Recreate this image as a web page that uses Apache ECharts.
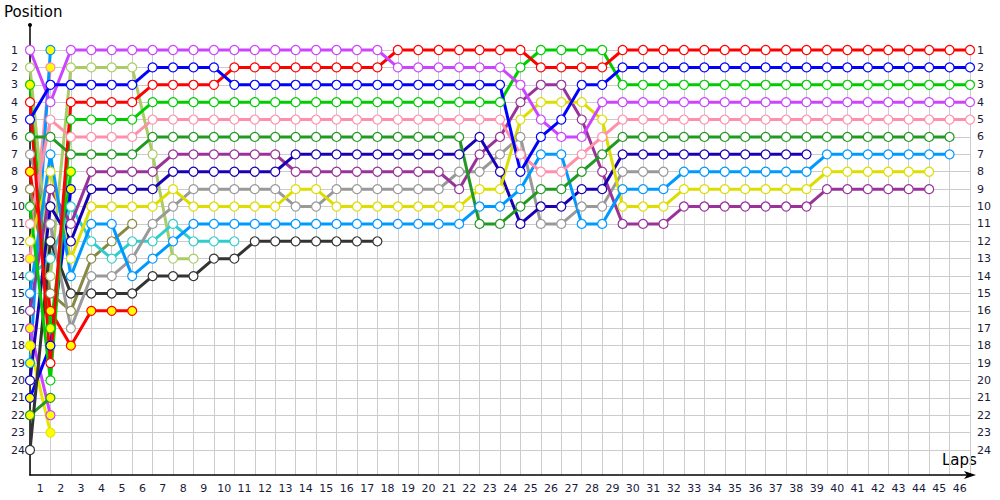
<!DOCTYPE html>
<html><head><meta charset="utf-8">
<script src="https://cdn.jsdelivr.net/npm/echarts@6/dist/echarts.min.js"></script>
<style>html,body{margin:0;padding:0;background:#fff}#c{width:1000px;height:500px}</style>
</head><body><div id="c"></div>
<script>
// Tick labels
const lapLabels = ['1','2','3','4','5','6','7','8','9','10','11','12','13','14','15','16','17','18','19','20','21','22','23','24','25','26','27','28','29','30','31','32','33','34','35','36','37','38','39','40','41','42','43','44','45','46'];
const posLabels = ['1','2','3','4','5','6','7','8','9','10','11','12','13','14','15','16','17','18','19','20','21','22','23','24'];

// Position per lap (index 0 = grid)
const posRed      = [4,19,4,4,4,4,3,3,3,3,2,2,2,2,2,2,2,2,1,1,1,1,1,1,1,2,2,2,2,1,1,1,1,1,1,1,1,1,1,1,1,1,1,1,1,1,1];
const posBlue     = [5,3,3,3,3,3,2,2,2,2,3,3,3,3,3,3,3,3,3,3,3,3,3,3,8,6,5,3,3,2,2,2,2,2,2,2,2,2,2,2,2,2,2,2,2,2,2];
const posGreen    = [10,20,5,5,5,5,4,4,4,4,4,4,4,4,4,4,4,4,4,4,4,4,4,4,2,1,1,1,1,3,3,3,3,3,3,3,3,3,3,3,3,3,3,3,3,3,3];
const posViolet   = [1,4,1,1,1,1,1,1,1,1,1,1,1,1,1,1,1,1,2,2,2,2,2,2,3,5,6,6,4,4,4,4,4,4,4,4,4,4,4,4,4,4,4,4,4,4,4];
const posPink     = [11,5,6,6,6,6,5,5,5,5,5,5,5,5,5,5,5,5,5,5,5,5,5,5,7,8,8,7,6,5,5,5,5,5,5,5,5,5,5,5,5,5,5,5,5,5,5];
const posDkGreen  = [6,6,7,7,7,7,6,6,6,6,6,6,6,6,6,6,6,6,6,6,6,6,11,11,10,9,9,8,7,6,6,6,6,6,6,6,6,6,6,6,6,6,6,6,6,6];
const posLtBlue   = [15,7,14,11,11,14,13,12,11,11,11,11,11,11,11,11,11,11,11,11,11,11,10,10,9,7,7,11,11,9,9,9,8,8,8,8,8,8,8,7,7,7,7,7,7,7];
const posYellow   = [12,8,13,10,10,10,10,9,10,10,10,10,10,9,9,10,10,10,10,10,10,10,9,9,5,4,4,4,5,10,10,10,9,9,9,9,9,9,9,8,8,8,8,8,8];
const posPlum     = [16,9,11,8,8,8,8,7,7,7,7,7,7,8,8,8,8,8,8,8,8,9,7,6,4,3,3,5,8,11,11,11,10,10,10,10,10,10,10,9,9,9,9,9,9];
const posNavy     = [20,10,12,9,9,9,9,8,8,8,8,8,8,7,7,7,7,7,7,7,7,7,6,8,11,10,10,9,9,7,7,7,7,7,7,7,7,7,7];
const posGray     = [7,11,17,14,14,13,11,10,9,9,9,9,9,10,10,9,9,9,9,9,9,8,8,7,6,11,11,10,10,8,8,8];
const posBlack    = [24,12,15,15,15,15,14,14,14,13,13,12,12,12,12,12,12,12];
const posCyan     = [14,13,10,12,13,12,12,11,12,12,12];
const posLtOlive  = [2,14,2,2,2,2,7,13,13];
const posOlive    = [9,15,16,13,12,11];
const posRedY     = [8,16,18,16,16,16];
const posBlueY    = [21,18,9];
const posGreenY   = [3,17,8];
const posDkGreenY = [22,21];
const posVioletY  = [17,22];
const posYellowY  = [18,23];
const posLtBlueY  = [19,1];
const posPinkY    = [13,2];

const W = '#ffffff', Y = '#ffff00';
const drivers = [
  {pos: posPinkY,    line:'#ff8fab', fill:Y},
  {pos: posLtBlueY,  line:'#0099ff', fill:Y},
  {pos: posYellowY,  line:'#e6e600', fill:Y},
  {pos: posVioletY,  line:'#cc44ff', fill:Y},
  {pos: posDkGreenY, line:'#229922', fill:Y},
  {pos: posGreenY,   line:'#00cc00', fill:Y},
  {pos: posBlueY,    line:'#0000ff', fill:Y},
  {pos: posRedY,     line:'#ff0000', fill:Y},
  {pos: posOlive,    line:'#888844', fill:W},
  {pos: posLtOlive,  line:'#aacc66', fill:W},
  {pos: posCyan,     line:'#33cccc', fill:W},
  {pos: posBlack,    line:'#333333', fill:W},
  {pos: posGray,     line:'#999999', fill:W},
  {pos: posPlum,     line:'#993399', fill:W},
  {pos: posNavy,     line:'#1a00b3', fill:W},
  {pos: posYellow,   line:'#dddd00', fill:W},
  {pos: posLtBlue,   line:'#0099ff', fill:W},
  {pos: posDkGreen,  line:'#229922', fill:W},
  {pos: posPink,     line:'#ff8fab', fill:W},
  {pos: posGreen,    line:'#00cc00', fill:W},
  {pos: posRed,      line:'#ff0000', fill:W},
  {pos: posViolet,   line:'#cc44ff', fill:W},
  {pos: posBlue,     line:'#0000ff', fill:W}
];

const FONT = 'DejaVu Sans';
const LABEL = '#1a1a3a';
const yMax = 1 + 425 / (400 / 23);
const yFmt = v => (Number.isInteger(v) && v >= 1 && v <= posLabels.length) ? posLabels[v - 1] : '';

const chart = echarts.init(document.getElementById('c'), null, {renderer:'svg', width:1000, height:500});
chart.setOption({
  animation:false,
  backgroundColor:'#ffffff',
  grid:[
    {left:30, right:30, top:50, bottom:25},
    {left:30, right:30, top:50, bottom:50}
  ],
  xAxis:[
    {type:'value', gridIndex:0, min:0, max:46, interval:1,
     axisLabel:{show:false}, axisTick:{show:false},
     axisLine:{show:true, lineStyle:{color:'#000', width:1.5}, symbol:['none','arrow'], symbolSize:[6,12], symbolOffset:[0,6]},
     splitLine:{show:true, lineStyle:{color:'#cccccc', width:1}}},
    {type:'category', gridIndex:0, data:lapLabels, boundaryGap:true, position:'bottom',
     axisLine:{show:false}, axisTick:{show:false}, splitLine:{show:false},
     axisLabel:{interval:0, margin:8, color:LABEL, fontSize:11, fontFamily:FONT}},
    {type:'value', gridIndex:1, min:0, max:46, interval:1, show:false}
  ],
  yAxis:[
    {type:'value', gridIndex:0, inverse:true, min:1, max:yMax, interval:1,
     axisLine:{show:true, lineStyle:{color:'#000', width:1.5}}, axisTick:{show:false},
     axisLabel:{formatter:yFmt, align:'left', margin:19, color:LABEL, fontSize:11, fontFamily:FONT, showMinLabel:true, showMaxLabel:true},
     splitLine:{show:false}, z:3},
    {type:'value', gridIndex:0, inverse:true, min:1, max:yMax, interval:1, position:'right',
     axisLine:{show:false}, axisTick:{show:false}, splitLine:{show:false},
     axisLabel:{formatter:yFmt, margin:7, color:LABEL, fontSize:11, fontFamily:FONT, showMinLabel:true, showMaxLabel:true}},
    {type:'value', gridIndex:1, inverse:true, min:1, max:24, interval:1,
     axisLine:{show:false}, axisTick:{show:false}, axisLabel:{show:false},
     splitLine:{show:true, lineStyle:{color:'#cccccc', width:1}}}
  ],
  graphic:[
    {type:'line', shape:{x1:30, y1:25, x2:30, y2:50}, style:{stroke:'#000', lineWidth:1.5}, z:1},
    {type:'circle', shape:{cx:30, cy:25, r:2}, style:{fill:'#000'}, z:1},
    {type:'text', left:4, top:4, style:{text:'Position', font:'15px "DejaVu Sans"', fill:'#000'}},
    {type:'text', left:942, top:452, style:{text:'Laps', font:'15px "DejaVu Sans"', fill:'#000'}}
  ],
  series: drivers.map(d => ({
    type:'line', xAxisIndex:0, yAxisIndex:0,
    data: d.pos.map((p, i) => [i, p]),
    symbol:'circle', symbolSize:9, showSymbol:true, showAllSymbol:true, clip:false,
    lineStyle:{color:d.line, width:3, cap:'round', join:'round'},
    itemStyle:{color:d.fill, borderColor:d.line, borderWidth:1.2},
    emphasis:{disabled:true}, silent:true
  }))
});
</script>
</body></html>
